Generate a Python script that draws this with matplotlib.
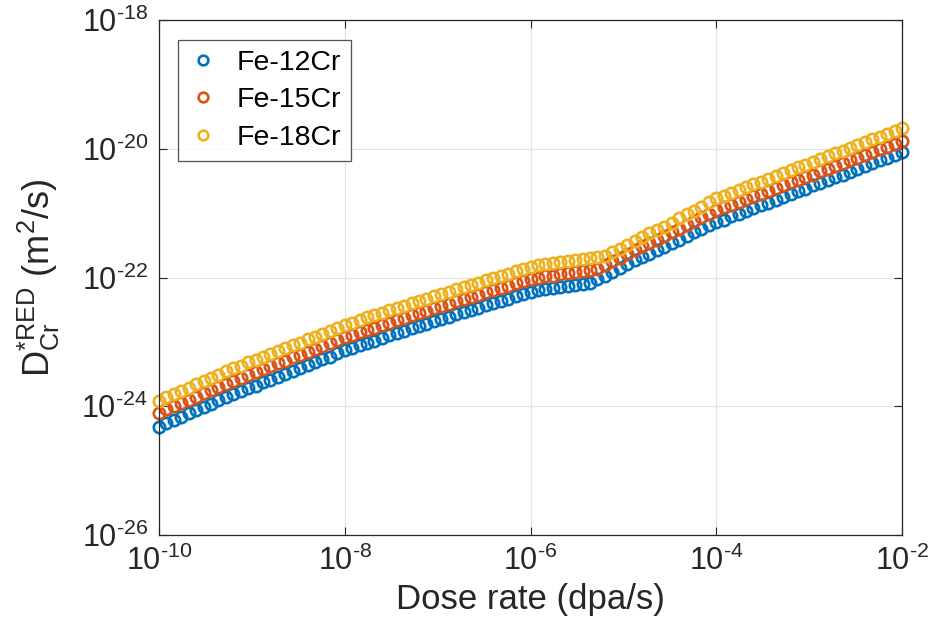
import numpy as np
import matplotlib
matplotlib.use('Agg')
import matplotlib.pyplot as plt
from matplotlib.ticker import LogLocator, NullLocator, FuncFormatter

plt.rcParams['font.family'] = ['Liberation Sans', 'DejaVu Sans']
plt.rcParams['mathtext.fontset'] = 'custom'
plt.rcParams['mathtext.rm'] = 'Liberation Sans'
plt.rcParams['mathtext.it'] = 'Liberation Sans'
plt.rcParams['mathtext.default'] = 'regular'

# dose rate exponents (log10 of dpa/s)
dose_exp = [
    -10.00, -9.92, -9.84, -9.76, -9.68, -9.60, -9.52, -9.44, -9.36, -9.28,
    -9.20, -9.12, -9.04, -8.96, -8.88, -8.80, -8.72, -8.64, -8.56, -8.48,
    -8.40, -8.32, -8.24, -8.16, -8.08, -8.00, -7.92, -7.84, -7.76, -7.68,
    -7.60, -7.52, -7.44, -7.36, -7.28, -7.20, -7.12, -7.04, -6.96, -6.88,
    -6.80, -6.72, -6.64, -6.56, -6.48, -6.40, -6.32, -6.24, -6.16, -6.08,
    -6.00, -5.92, -5.84, -5.76, -5.68, -5.60, -5.52, -5.44, -5.36, -5.28,
    -5.20, -5.12, -5.04, -4.96, -4.88, -4.80, -4.72, -4.64, -4.56, -4.48,
    -4.40, -4.32, -4.24, -4.16, -4.08, -4.00, -3.92, -3.84, -3.76, -3.68,
    -3.60, -3.52, -3.44, -3.36, -3.28, -3.20, -3.12, -3.04, -2.96, -2.88,
    -2.80, -2.72, -2.64, -2.56, -2.48, -2.40, -2.32, -2.24, -2.16, -2.08,
    -2.00,
]

# log10 of D*RED_Cr (m^2/s)
d_fe12cr = [
    -24.32, -24.26, -24.21, -24.16, -24.11, -24.06, -24.01, -23.96, -23.91, -23.86,
    -23.81, -23.77, -23.72, -23.68, -23.63, -23.59, -23.54, -23.50, -23.45, -23.41,
    -23.36, -23.32, -23.27, -23.23, -23.18, -23.13, -23.09, -23.05, -23.01, -22.98,
    -22.94, -22.90, -22.86, -22.83, -22.79, -22.75, -22.72, -22.68, -22.64, -22.61,
    -22.57, -22.54, -22.50, -22.47, -22.43, -22.40, -22.36, -22.33, -22.29, -22.26,
    -22.22, -22.20, -22.18, -22.17, -22.15, -22.13, -22.12, -22.10, -22.08, -22.03,
    -21.97, -21.91, -21.85, -21.79, -21.73, -21.68, -21.63, -21.58, -21.52, -21.47,
    -21.41, -21.36, -21.30, -21.25, -21.19, -21.14, -21.10, -21.05, -21.01, -20.97,
    -20.92, -20.88, -20.84, -20.79, -20.75, -20.70, -20.66, -20.62, -20.57, -20.53,
    -20.49, -20.44, -20.40, -20.36, -20.31, -20.27, -20.22, -20.18, -20.14, -20.09,
    -20.05,
]

d_fe15cr = [
    -24.11, -24.05, -24.00, -23.95, -23.90, -23.85, -23.80, -23.75, -23.70, -23.65,
    -23.60, -23.56, -23.51, -23.47, -23.42, -23.38, -23.33, -23.29, -23.24, -23.20,
    -23.15, -23.11, -23.06, -23.02, -22.97, -22.93, -22.89, -22.85, -22.81, -22.78,
    -22.74, -22.70, -22.66, -22.63, -22.59, -22.55, -22.52, -22.48, -22.44, -22.41,
    -22.37, -22.34, -22.30, -22.27, -22.23, -22.20, -22.16, -22.13, -22.09, -22.06,
    -22.02, -22.00, -21.98, -21.97, -21.95, -21.93, -21.92, -21.90, -21.89, -21.87,
    -21.81, -21.75, -21.69, -21.63, -21.57, -21.51, -21.46, -21.41, -21.35, -21.29,
    -21.24, -21.18, -21.12, -21.06, -21.01, -20.95, -20.91, -20.87, -20.82, -20.78,
    -20.74, -20.70, -20.65, -20.61, -20.57, -20.52, -20.48, -20.44, -20.40, -20.35,
    -20.31, -20.27, -20.22, -20.18, -20.14, -20.10, -20.05, -20.01, -19.97, -19.92,
    -19.88,
]

d_fe18cr = [
    -23.92, -23.86, -23.81, -23.76, -23.71, -23.66, -23.61, -23.56, -23.51, -23.46,
    -23.41, -23.37, -23.32, -23.28, -23.23, -23.19, -23.14, -23.10, -23.05, -23.01,
    -22.96, -22.92, -22.87, -22.83, -22.78, -22.74, -22.70, -22.66, -22.62, -22.59,
    -22.55, -22.51, -22.47, -22.44, -22.40, -22.36, -22.33, -22.29, -22.25, -22.22,
    -22.18, -22.15, -22.11, -22.08, -22.04, -22.01, -21.97, -21.94, -21.90, -21.87,
    -21.83, -21.81, -21.79, -21.78, -21.76, -21.74, -21.73, -21.71, -21.70, -21.68,
    -21.67, -21.61, -21.55, -21.49, -21.43, -21.37, -21.31, -21.26, -21.21, -21.15,
    -21.08, -21.02, -20.96, -20.90, -20.83, -20.77, -20.73, -20.68, -20.64, -20.60,
    -20.55, -20.51, -20.47, -20.42, -20.38, -20.33, -20.29, -20.25, -20.20, -20.16,
    -20.12, -20.07, -20.03, -19.99, -19.94, -19.90, -19.85, -19.81, -19.77, -19.72,
    -19.68,
]

labels = ['Fe-12Cr', 'Fe-15Cr', 'Fe-18Cr']
colors = ['#0072BD', '#D95319', '#EDB120']

dose = 10.0 ** np.array(dose_exp)
series = [d_fe12cr, d_fe15cr, d_fe18cr]

fig = plt.figure(figsize=(9.32, 6.43), dpi=100)
ax = fig.add_axes([159 / 932, 1 - 535 / 643, 743 / 932, 515 / 643])

for vals, lab, col in zip(series, labels, colors):
    ax.loglog(dose, 10.0 ** np.array(vals), linestyle='none', marker='o',
              markersize=8.2, markerfacecolor='none', markeredgecolor=col,
              markeredgewidth=1.9, label=lab, clip_on=False)

ax.set_xlim(1e-10, 1e-2)
ax.set_ylim(1e-26, 1e-18)
ax.xaxis.set_major_locator(LogLocator(base=100.0, numticks=10))
ax.yaxis.set_major_locator(LogLocator(base=100.0, numticks=10))
ax.xaxis.set_minor_locator(NullLocator())
ax.yaxis.set_minor_locator(NullLocator())


def pow_label(v, pos):
    e = int(round(np.log10(v)))
    if e < 0:
        return r'$10^{\text{-}%d}$' % (-e)
    return r'$10^{%d}$' % e


ax.xaxis.set_major_formatter(FuncFormatter(pow_label))
ax.yaxis.set_major_formatter(FuncFormatter(pow_label))

ax.grid(True, color='#E3E3E3', linewidth=0.9)
ax.set_axisbelow(True)
ax.tick_params(direction='in', length=6, width=0.8, colors='#262626',
               labelsize=22, top=True, right=True, pad=8)
for sp in ax.spines.values():
    sp.set_color('#262626')
    sp.set_linewidth(0.9)

ax.set_xlabel('Dose rate (dpa/s)', fontsize=25, color='#262626', labelpad=4)
ax.set_ylabel(r'$D^{*RED}_{Cr}$ (m$^2$/s)', fontsize=26, color='#262626', labelpad=14)

leg = ax.legend(loc='upper left', bbox_to_anchor=(0.026, 0.961), borderaxespad=0,
                fontsize=20.5, frameon=True, fancybox=False, edgecolor='#262626',
                handlelength=1.0, handletextpad=0.7, borderpad=0.35,
                labelspacing=0.4, markerscale=0.85)
leg.get_frame().set_linewidth(0.9)

fig.savefig('out.png', dpi=100)
